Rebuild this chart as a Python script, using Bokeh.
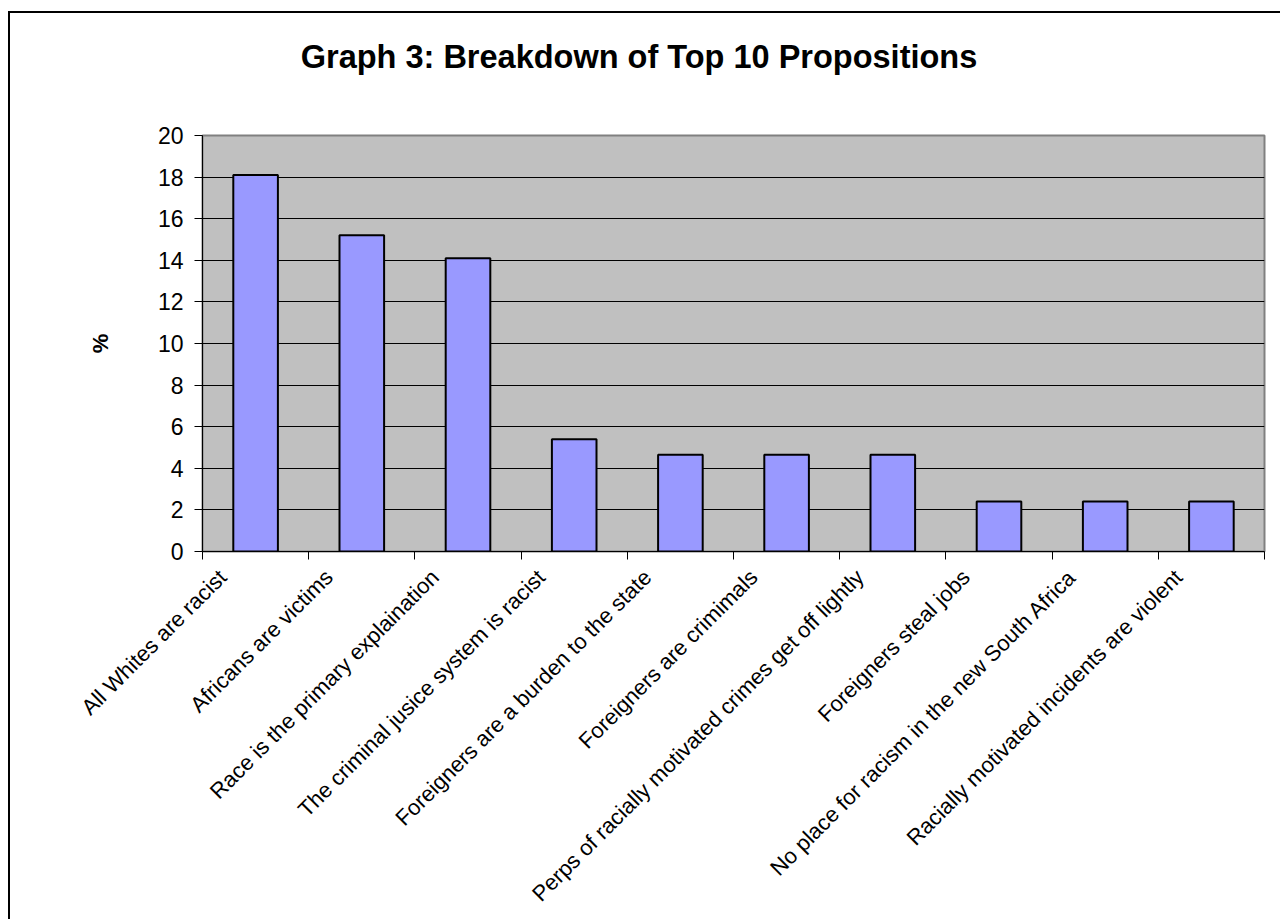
import numpy as np
from bokeh.plotting import figure
from bokeh.layouts import column
from bokeh.models import (Range1d, LinearAxis, FixedTicker, SingleIntervalTicker,
                          CustomJSTickFormatter, ColumnDataSource, Grid, Div)
from bokeh.embed import file_html
from bokeh.resources import INLINE

# Top 10 propositions and their share (%)
propositions = [
    "All Whites are racist",
    "Africans are victims",
    "Race is the primary explaination",
    "The criminal jusice system is racist",
    "Foreigners are a burden to the state",
    "Foreigners are crimimals",
    "Perps of racially motivated crimes get off lightly",
    "Foreigners steal jobs",
    "No place for racism in the new South Africa",
    "Racially motivated incidents are violent",
]
percent = [18.1, 15.2, 14.1, 5.4, 4.65, 4.65, 4.65, 2.4, 2.4, 2.4]
title_text = "Graph 3: Breakdown of Top 10 Propositions"

FONT = "Liberation Sans"
n = len(propositions)
centers = np.arange(n) + 0.5
# rotated labels sit a little left of the bar centre
label_pos = centers - 0.31

HEAD_H = 114  # height of the heading strip above the chart

src = ColumnDataSource(dict(x=centers, top=percent))

p = figure(width=1280, height=919 - HEAD_H, output_backend="svg", toolbar_location=None,
           x_range=Range1d(0, n), y_range=Range1d(0, 20),
           x_axis_type=None, y_axis_type=None,
           min_border_left=202, min_border_right=16,
           min_border_top=135 - HEAD_H, min_border_bottom=368)
p.title.visible = False

p.background_fill_color = "#C0C0C0"
p.border_fill_color = None
p.outline_line_color = "#808080"
p.outline_line_width = 2

# y axis
yax = LinearAxis(ticker=SingleIntervalTicker(interval=2))
yax.axis_line_color = "black"
yax.major_tick_out = 8
yax.major_tick_in = 0
yax.minor_tick_line_color = None
yax.major_label_standoff = 11
yax.major_label_text_font = FONT
yax.major_label_text_font_size = "23px"
yax.major_label_text_color = "black"
yax.axis_label = "%"
yax.axis_label_text_font = FONT
yax.axis_label_text_font_style = "bold"
yax.axis_label_text_font_size = "22px"
yax.axis_label_text_color = "black"
yax.axis_label_standoff = 42
p.add_layout(yax, "left")

p.xgrid.grid_line_color = None
p.ygrid.grid_line_color = None
p.add_layout(Grid(dimension=1, ticker=yax.ticker, grid_line_color="black", grid_line_width=1))

p.vbar(x="x", top="top", width=0.42, source=src,
       fill_color="#9999FF", line_color="black", line_width=2)

# x axis: labels under the bars, tick marks between categories
xax = LinearAxis(ticker=FixedTicker(ticks=list(label_pos), minor_ticks=list(range(n + 1))))
xax.formatter = CustomJSTickFormatter(args=dict(labels=propositions),
                                      code="return labels[Math.floor(tick)];")
xax.axis_line_color = "black"
xax.major_tick_line_color = None
xax.major_tick_out = 0
xax.major_tick_in = 0
xax.minor_tick_line_color = "black"
xax.minor_tick_out = 8
xax.minor_tick_in = 0
xax.major_label_orientation = np.pi / 4
xax.major_label_standoff = 14
xax.major_label_text_font = FONT
xax.major_label_text_font_size = "22px"
xax.major_label_text_color = "black"
p.add_layout(xax, "below")

# heading, centred over the whole chart
heading = Div(
    text=(f'<div style="font-family:\'{FONT}\'; font-weight:bold; font-size:32.5px; '
          f'line-height:{HEAD_H}px; text-align:center; width:1278px; color:#000; '
          f'white-space:nowrap;">{title_text}</div>'),
    width=1280, height=HEAD_H, margin=0)

layout = column(heading, p, width=1280, height=919, spacing=0, margin=0)
# outer chart frame (left and top edges)
layout.styles = {
    "background": "linear-gradient(#000,#000) 8px 11px / 2px 100% no-repeat, "
                  "linear-gradient(#000,#000) 8px 11px / 100% 2px no-repeat, #ffffff"
}

open("out.html", "w").write(file_html(layout, INLINE))
